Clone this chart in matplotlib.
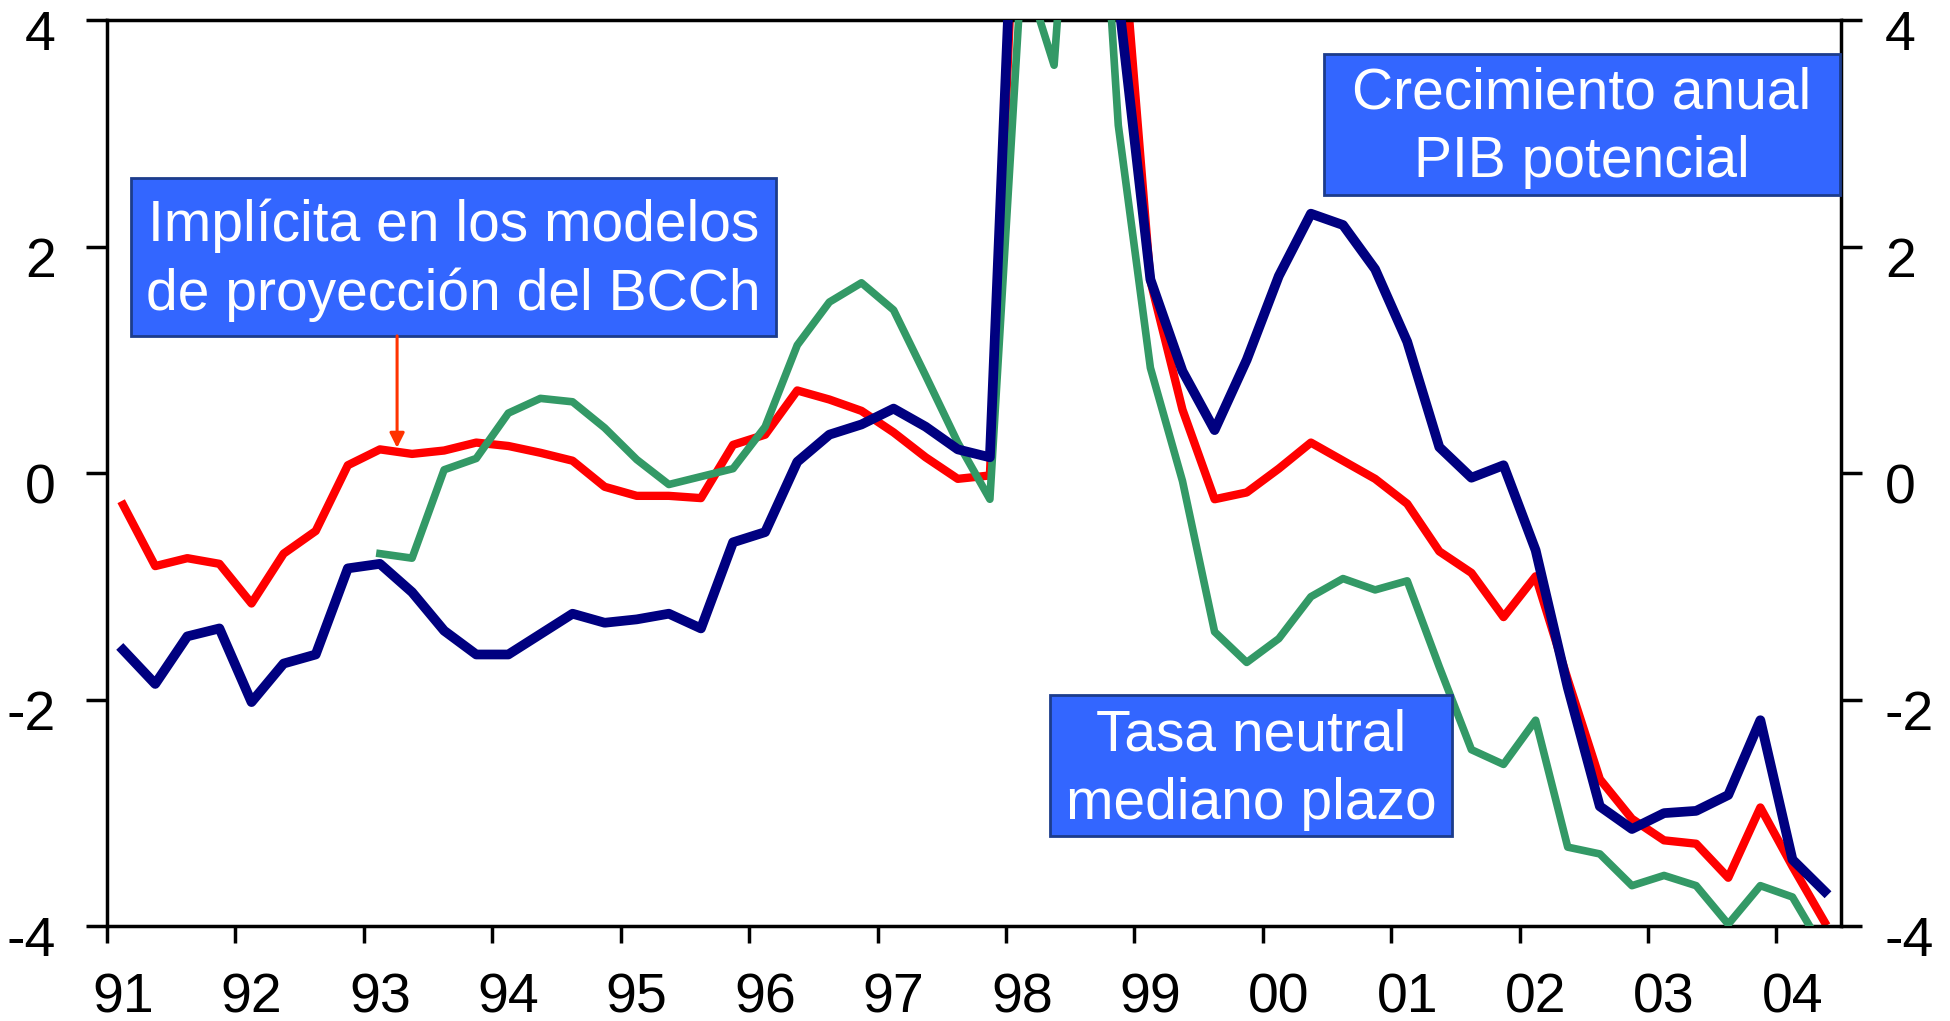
import numpy as np
import matplotlib
matplotlib.use("Agg")
import matplotlib.pyplot as plt
from matplotlib import transforms, font_manager
from matplotlib.patches import Rectangle

# quarterly data, 1991Q1 .. 2004Q2
years = ["91", "92", "93", "94", "95", "96", "97", "98",
         "99", "00", "01", "02", "03", "04"]

# red: implicit in BCCh projection models
implicita = [-0.28, -0.82, -0.75, -0.80, -1.15, -0.71, -0.51, 0.07,
             0.21, 0.17, 0.20, 0.27, 0.24, 0.18, 0.11, -0.12,
             -0.20, -0.20, -0.22, 0.25, 0.34, 0.73, 0.65, 0.55,
             0.36, 0.14, -0.05, -0.02, 6.5, 7.5, 7.0, 5.2,
             1.70, 0.56, -0.23, -0.17, 0.04, 0.27, 0.11, -0.05,
             -0.27, -0.69, -0.88, -1.27, -0.91, -1.82, -2.70, -3.05,
             -3.24, -3.27, -3.57, -2.95, -3.47, -3.96]

# navy: annual growth of potential GDP
pib_potencial = [-1.56, -1.86, -1.44, -1.37, -2.02, -1.68, -1.60, -0.84,
                 -0.80, -1.05, -1.39, -1.60, -1.60, -1.42, -1.24, -1.32,
                 -1.29, -1.24, -1.37, -0.61, -0.52, 0.10, 0.34, 0.43,
                 0.57, 0.41, 0.21, 0.14, 7.0, 7.5, 7.0, 4.2,
                 1.71, 0.90, 0.38, 1.00, 1.74, 2.29, 2.19, 1.80,
                 1.16, 0.23, -0.04, 0.07, -0.68, -1.89, -2.94, -3.14,
                 -3.00, -2.98, -2.84, -2.18, -3.41, -3.69]

# green: medium-term neutral rate
tasa_neutral = [np.nan] * 8 + [
    -0.71, -0.75, 0.03, 0.13, 0.53, 0.66, 0.63, 0.40,
    0.12, -0.10, -0.03, 0.04, 0.41, 1.13, 1.51, 1.68,
    1.44, 0.86, 0.27, -0.23, 4.5, 3.6, 7.5, 3.07,
    0.93, -0.07, -1.40, -1.67, -1.46, -1.09, -0.93, -1.03,
    -0.95, -1.71, -2.44, -2.57, -2.18, -3.30, -3.36, -3.64,
    -3.55, -3.64, -3.98, -3.64, -3.74, -4.22]

yticks = [-4, -2, 0, 2, 4]

color_red = "#FF0000"
color_green = "#339966"
color_navy = "#000080"
box_color = "#3366FF"
box_edge = "#1C3C8C"

avail = {f.name for f in font_manager.fontManager.ttflist}
tick_font = "Liberation Sans Narrow" if "Liberation Sans Narrow" in avail else "Liberation Sans"

plt.rcParams.update({
    "font.family": tick_font,
    "axes.unicode_minus": False,
})

n = len(implicita)
x = np.arange(n) + 0.5

fig = plt.figure(figsize=(19.5, 10.21), dpi=100)
ax = fig.add_axes([0.0549, 0.0926, 0.8890, 0.8879])

ax.plot(x, implicita, color=color_red, lw=6.0, solid_joinstyle="round", zorder=2)
ax.plot(x, tasa_neutral, color=color_green, lw=5.5, solid_joinstyle="round", zorder=3)
ax.plot(x, pib_potencial, color=color_navy, lw=7.0, solid_joinstyle="round", zorder=4)

ax.set_xlim(0, n)
ax.set_ylim(-4, 4)

# x axis: labels at first quarter of each year, ticks at year boundaries
ax.set_xticks(np.arange(len(years)) * 4 + 0.5)
ax.set_xticklabels(years)
ax.set_xticks(np.arange(len(years)) * 4, minor=True)
ax.tick_params(axis="x", which="major", length=0, pad=33, labelsize=40)
ax.tick_params(axis="x", which="minor", length=12, width=2.5, direction="out")

ax.set_yticks(yticks)
ax.set_yticklabels([str(v) for v in yticks])
ax.tick_params(axis="y", which="major", length=15, width=2.5, direction="out",
               left=True, right=True, labelleft=True, labelright=True,
               labelsize=40, pad=22)

# y labels sit a bit below their ticks in the original
offset_l = transforms.ScaledTranslation(0, -0.10, fig.dpi_scale_trans)
offset_r = transforms.ScaledTranslation(-0.07, -0.10, fig.dpi_scale_trans)
for tk in ax.yaxis.get_major_ticks():
    tk.label1.set_transform(tk.label1.get_transform() + offset_l)
    tk.label2.set_transform(tk.label2.get_transform() + offset_r)

for s in ax.spines.values():
    s.set_linewidth(2.5)
    s.set_color("black")

# annotation boxes (axes fraction)
boxes = [
    ((0.0138, 0.6514), 0.3721, 0.1743, "Implícita en los modelos\nde proyección del BCCh"),
    ((0.7020, 0.8072), 0.2977, 0.1557, "Crecimiento anual\nPIB potencial"),
    ((0.5440, 0.0998), 0.2319, 0.1550, "Tasa neutral\nmediano plazo"),
]
for (bx, by), bw, bh, txt in boxes:
    ax.add_patch(Rectangle((bx, by), bw, bh, transform=ax.transAxes,
                           facecolor=box_color, edgecolor=box_edge, lw=2,
                           zorder=5, clip_on=False))
    ax.text(bx + bw / 2, by + bh / 2 - 0.004, txt, transform=ax.transAxes,
            ha="center", va="center", color="white", fontsize=41,
            family="Liberation Sans", linespacing=1.35, zorder=6)

ax.annotate("", xy=(0.1673, 0.5279), xycoords="axes fraction",
            xytext=(0.1673, 0.6514), textcoords="axes fraction",
            arrowprops=dict(arrowstyle="-|>", color="#FF3300", lw=2.2,
                            mutation_scale=22, shrinkA=0, shrinkB=0),
            zorder=5)

fig.savefig("out.png", dpi=100)
